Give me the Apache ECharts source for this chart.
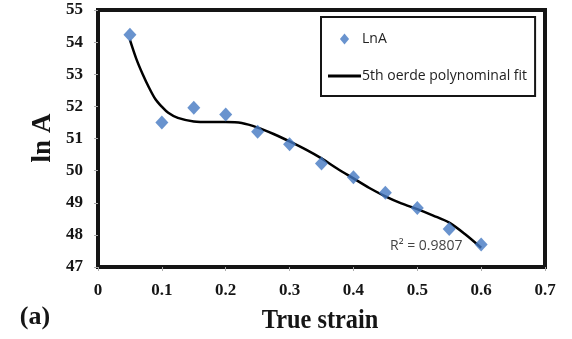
<!DOCTYPE html>
<html>
<head>
<meta charset="utf-8">
<script src="https://cdn.jsdelivr.net/npm/echarts@6/dist/echarts.min.js"></script>
<style>
  html, body { margin: 0; padding: 0; background: #fff; }
  #chart { width: 572px; height: 339px; }
</style>
</head>
<body>
<div id="chart"></div>
<script>
// measured points (true strain vs ln A)
const strain = [0.05, 0.1, 0.15, 0.2, 0.25, 0.3, 0.35, 0.4, 0.45, 0.5, 0.55, 0.6];
const lnA = [54.23, 51.5, 51.96, 51.75, 51.21, 50.82, 50.22, 49.79, 49.31, 48.84, 48.18, 47.7];

// 5th order trend line
const fitX = [0.05, 0.06, 0.07, 0.08, 0.09, 0.1, 0.11, 0.125, 0.15, 0.175, 0.2, 0.225, 0.25, 0.275,
  0.3, 0.325, 0.35, 0.375, 0.4, 0.425, 0.45, 0.475, 0.5, 0.525, 0.55, 0.575, 0.6];
const fitY = [54.07, 53.48, 53.0, 52.58, 52.22, 51.99, 51.8, 51.64, 51.53, 51.51, 51.51, 51.48, 51.34, 51.14,
  50.91, 50.66, 50.38, 50.06, 49.76, 49.46, 49.2, 48.98, 48.8, 48.6, 48.38, 48.02, 47.6];

const xTicks = [0, 0.1, 0.2, 0.3, 0.4, 0.5, 0.6, 0.7];
const yTicks = [47, 48, 49, 50, 51, 52, 53, 54, 55];

const chart = echarts.init(document.getElementById("chart"), null, { renderer: "canvas" });

const serif = "'Liberation Serif', 'DejaVu Serif', serif";
const sans = "'Open Sans', 'Noto Sans', sans-serif";

chart.setOption({
  animation: false,
  grid: { left: 98, right: 27, top: 10, bottom: 72, show: true, borderColor: "#151515", borderWidth: 4 },
  legend: {
    orient: "vertical",
    left: 321,
    top: 17,
    padding: [15, 8, 13, 7],
    itemGap: 23,
    itemWidth: 33,
    itemHeight: 11,
    symbolKeepAspect: true,
    borderColor: "#151515",
    borderWidth: 2,
    textStyle: { fontFamily: sans, fontSize: 14, color: "#222", padding: [0, 0, 0, -4] },
    data: [
      { name: "LnA", icon: "path://M5,0L10,6L5,12L0,6Z" },
      { name: "5th oerde polynominal fit", icon: "path://M0,0H33V3H0Z" },
    ],
  },
  xAxis: {
    type: "value",
    min: xTicks[0],
    max: xTicks[xTicks.length - 1],
    interval: 0.1,
    axisLine: { show: false },
    axisTick: { show: true, length: 4, lineStyle: { color: "#aaa" } },
    splitLine: { show: false },
    axisLabel: { fontFamily: serif, fontWeight: "bold", fontSize: 17, color: "#151515", margin: 15 },
  },
  yAxis: {
    type: "value",
    min: yTicks[0],
    max: yTicks[yTicks.length - 1],
    interval: 1,
    axisLine: { show: false },
    axisTick: { show: true, length: 4, lineStyle: { color: "#aaa" } },
    splitLine: { show: false },
    axisLabel: { fontFamily: serif, fontWeight: "bold", fontSize: 17, color: "#151515", margin: 15 },
  },
  series: [
    {
      name: "5th oerde polynominal fit",
      type: "line",
      data: fitX.map((x, i) => [x, fitY[i]]),
      smooth: 0.3,
      symbol: "none",
      lineStyle: { color: "#000", width: 2.5 },
      itemStyle: { color: "#000" },
      z: 2,
    },
    {
      name: "LnA",
      type: "scatter",
      data: strain.map((x, i) => [x, lnA[i]]),
      symbol: "diamond",
      symbolSize: [13, 14],
      itemStyle: { color: "#4378c2" },
      z: 3,
    },
  ],
  graphic: [
    {
      type: "text",
      left: 390,
      top: 239,
      style: { text: "R² = 0.9807", font: "14px " + sans, fill: "#444" },
    },
    {
      type: "text",
      x: 35,
      y: 317,
      style: { text: "(a)", font: "bold 26px " + serif, fill: "#151515", align: "center", verticalAlign: "middle" },
    },
    {
      type: "text",
      x: 320,
      y: 321,
      scaleX: 0.87,
      style: { text: "True strain", font: "bold 28px " + serif, fill: "#151515", align: "center", verticalAlign: "middle" },
    },
    {
      type: "text",
      x: 43,
      y: 138,
      rotation: Math.PI / 2,
      style: { text: "ln A", font: "bold 27px " + serif, fill: "#151515", align: "center", verticalAlign: "middle" },
    },
  ],
});
</script>
</body>
</html>
